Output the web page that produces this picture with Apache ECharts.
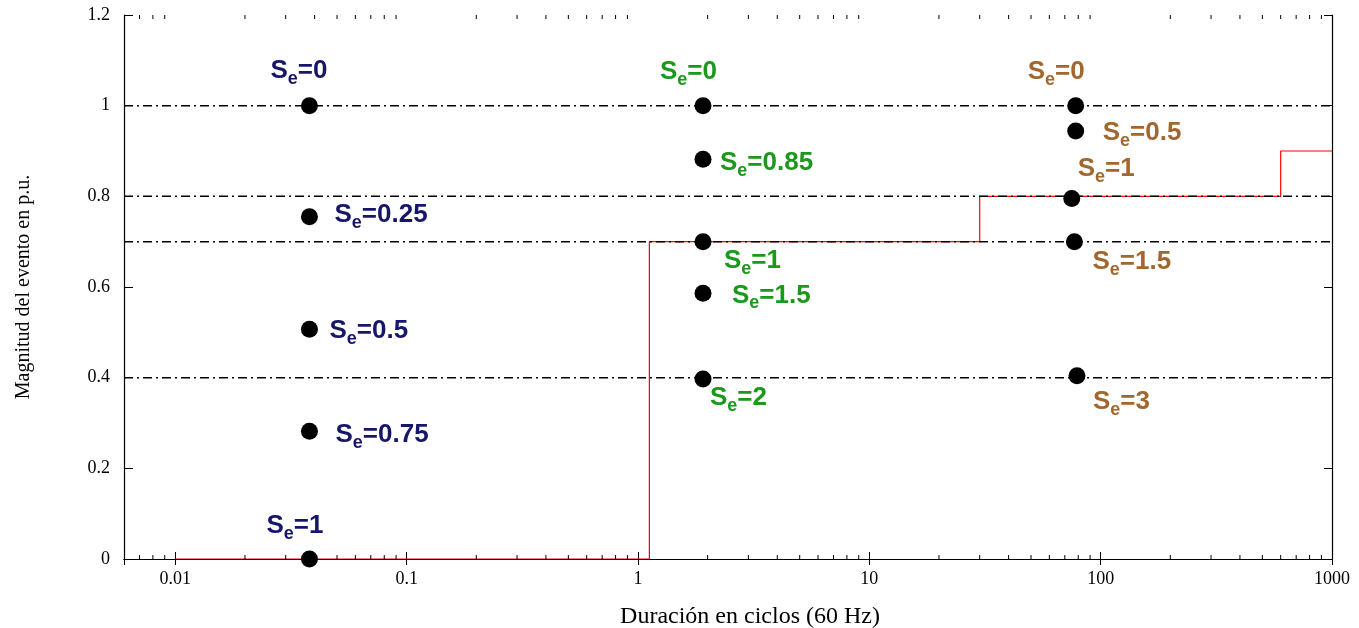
<!DOCTYPE html>
<html>
<head>
<meta charset="utf-8">
<title>Magnitud vs duración</title>
<script src="https://cdn.jsdelivr.net/npm/echarts@6/dist/echarts.min.js"></script>
<style>
  html, body { margin: 0; padding: 0; background: #ffffff; }
  #chart { width: 1359px; height: 628px; }
</style>
</head>
<body>
<div id="chart"></div>
<script>
// Event points: duration (cycles), magnitude (p.u.) and the S_e value of each point
const navyDur = [0.038, 0.038, 0.038, 0.038, 0.038];
const navyMag = [1.0, 0.755, 0.507, 0.282, 0.0];
const navySe = ['0', '0.25', '0.5', '0.75', '1'];

const greenDur = [1.91, 1.91, 1.91, 1.91, 1.91];
const greenMag = [1.0, 0.882, 0.70, 0.586, 0.397];
const greenSe = ['0', '0.85', '1', '1.5', '2'];

const brownDur = [78, 78, 75, 77, 79];
const brownMag = [1.0, 0.944, 0.795, 0.70, 0.404];
const brownSe = ['0', '0.5', '1', '1.5', '3'];

// Tolerance curve (red step line)
const stepDur = [0.01, 1.12, 1.12, 30, 30, 600, 600, 1000];
const stepMag = [0, 0, 0.7, 0.7, 0.8, 0.8, 0.9, 0.9];

// Horizontal dash-dot reference levels
const refLevels = [1, 0.8, 0.7, 0.4];

// Axis ranges and tick labels
const xMin = 0.006, xMax = 1000;
const xTickLabels = ['0.01', '0.1', '1', '10', '100', '1000'];
const minorMultipliers = [2, 3, 4, 5, 6, 7, 8, 9];
const minorDecades = [0.001, 0.01, 0.1, 1, 10, 100];

// Label placement for each point: [dx of text start, dy of text middle] from the dot centre
const navyPlace = [[-39, -35], [25, -2], [20, 2], [26, 4], [-43, -33]];
const greenPlace = [[-43, -34], [17, 4], [21, 19], [29, 2], [7, 19]];
const brownPlace = [[-48, -34], [27, 2], [6, -30], [18, 20], [16, 26]];

const NAVY = '#16166a', GREEN = '#1a991a', BROWN = '#a2672e';

function minorTickValues() {
  const out = [];
  minorDecades.forEach(d => minorMultipliers.forEach(m => {
    const v = d * m;
    if (v > xMin && v < xMax) out.push([v]);
  }));
  return out;
}

function pointSeries(name, dur, mag, se, place, color) {
  return {
    name: name,
    type: 'scatter',
    symbol: 'circle',
    symbolSize: 17,
    z: 5,
    itemStyle: { color: '#000000', opacity: 1 },
    data: dur.map((d, i) => ({
      value: [d, mag[i]],
      label: {
        show: true,
        position: 'inside',
        align: 'left',
        verticalAlign: 'middle',
        offset: place[i],
        formatter: '{s|S}{e|e}{s|=' + se[i] + '}',
        rich: {
          s: { fontFamily: 'Liberation Sans', fontWeight: 'bold', fontSize: 26, lineHeight: 34, color: color },
          e: { fontFamily: 'Liberation Sans', fontWeight: 'bold', fontSize: 18, lineHeight: 16, verticalAlign: 'bottom', color: color }
        }
      }
    }))
  };
}

const serif = 'Liberation Serif';

const series = [];
refLevels.forEach(lv => {
  series.push({
    type: 'line',
    symbol: 'none',
    silent: true,
    z: 3,
    lineStyle: { color: '#000000', width: 1.5, type: [9, 4, 2, 4] },
    data: [[xMin, lv], [xMax, lv]]
  });
});
series.push({
  name: 'Curva',
  type: 'line',
  symbol: 'none',
  z: 2,
  lineStyle: { color: '#ff0000', width: 1.2 },
  data: stepDur.map((d, i) => [d, stepMag[i]])
});
// Minor log ticks on the bottom and top frame edges
series.push({
  type: 'custom',
  silent: true,
  z: 6,
  clip: false,
  data: minorTickValues(),
  renderItem: function (params, api) {
    const v = api.value(0);
    const b = api.coord([v, 0]);
    const t = api.coord([v, 1.2]);
    const st = { stroke: '#000000', lineWidth: 1 };
    return {
      type: 'group',
      children: [
        { type: 'line', shape: { x1: b[0], y1: b[1], x2: b[0], y2: b[1] - 4 }, style: st },
        { type: 'line', shape: { x1: t[0], y1: t[1], x2: t[0], y2: t[1] + 4 }, style: st }
      ]
    };
  }
});
series.push(pointSeries('A', navyDur, navyMag, navySe, navyPlace, NAVY));
series.push(pointSeries('B', greenDur, greenMag, greenSe, greenPlace, GREEN));
series.push(pointSeries('C', brownDur, brownMag, brownSe, brownPlace, BROWN));

function xLabel(v) {
  const k = Math.round(Math.log10(v));
  if (Math.abs(Math.log10(v) - k) > 1e-6) return '';
  const idx = k + 2;
  return (idx >= 0 && idx < xTickLabels.length) ? xTickLabels[idx] : '';
}

const axisLineStyle = { show: true, lineStyle: { color: '#000000', width: 1.2 } };

const option = {
  animation: false,
  backgroundColor: '#ffffff',
  grid: { left: 124, right: 27, top: 15, bottom: 69, containLabel: false, outerBoundsMode: 'none' },
  xAxis: [
    {
      type: 'log', logBase: 10, min: xMin, max: xMax, position: 'bottom',
      axisLine: axisLineStyle,
      axisTick: { show: true, inside: true, length: 7, lineStyle: { color: '#000000' } },
      axisLabel: { show: true, margin: 11, fontFamily: serif, fontSize: 18, color: '#000000', showMinLabel: false, formatter: xLabel },
      splitLine: { show: false },
      name: 'Duración en ciclos (60 Hz)',
      nameLocation: 'middle',
      nameGap: 46,
      nameTextStyle: { fontFamily: serif, fontSize: 24, color: '#000000', padding: [0, 0, 0, 44] }
    },
    {
      type: 'log', logBase: 10, min: xMin, max: xMax, position: 'top',
      axisLine: axisLineStyle,
      axisTick: { show: true, inside: true, length: 6, lineStyle: { color: '#000000' } },
      axisLabel: { show: false },
      splitLine: { show: false }
    }
  ],
  yAxis: [
    {
      type: 'value', min: 0, max: 1.2, interval: 0.2, position: 'left',
      axisLine: axisLineStyle,
      axisTick: { show: true, inside: true, length: 9, lineStyle: { color: '#000000' } },
      axisLabel: { margin: 14, fontFamily: serif, fontSize: 18, color: '#000000' },
      splitLine: { show: false },
      name: 'Magnitud del evento en p.u.',
      nameLocation: 'middle',
      nameGap: 90,
      nameTextStyle: { fontFamily: serif, fontSize: 20, color: '#000000' }
    },
    {
      type: 'value', min: 0, max: 1.2, interval: 0.2, position: 'right',
      axisLine: axisLineStyle,
      axisTick: { show: true, inside: true, length: 8, lineStyle: { color: '#000000' } },
      axisLabel: { show: false },
      splitLine: { show: false }
    }
  ],
  series: series
};

const chart = echarts.init(document.getElementById('chart'), null, { renderer: 'canvas' });
chart.setOption(option);
</script>
</body>
</html>
